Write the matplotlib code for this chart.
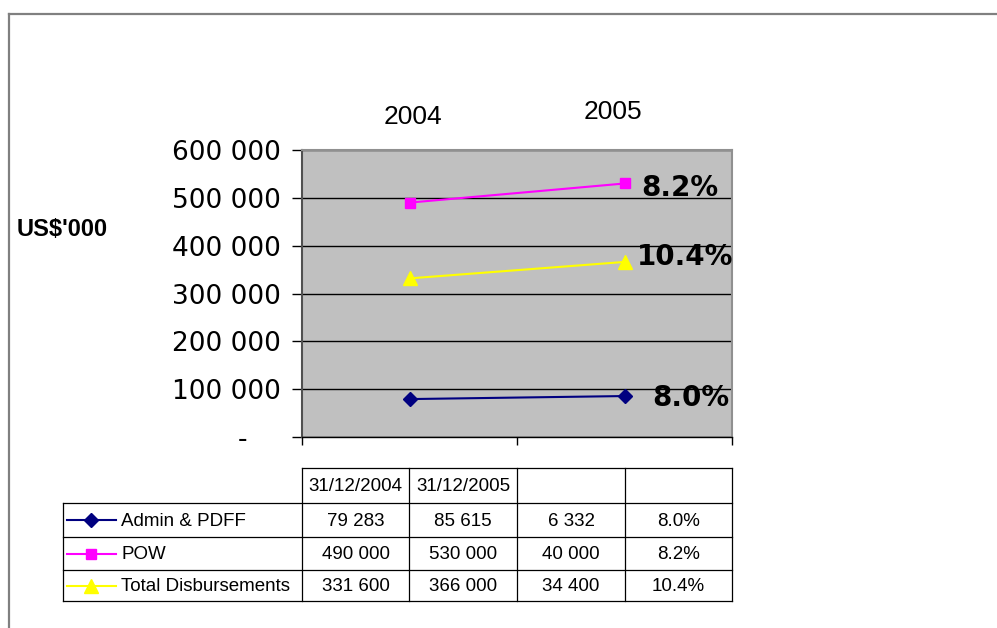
import matplotlib
matplotlib.use("Agg")
import matplotlib.pyplot as plt
from matplotlib.lines import Line2D

# ---- data ----
years = ["2004", "2005"]
dates = ["31/12/2004", "31/12/2005", "", ""]
series_names = ["Admin & PDFF", "POW", "Total Disbursements"]
admin = [79283, 85615]
pow_ = [490000, 530000]
total = [331600, 366000]
changes = [6332, 40000, 34400]
pct_labels = ["8.0%", "8.2%", "10.4%"]
y_ticks = [0, 100000, 200000, 300000, 400000, 500000, 600000]
y_unit = "US$'000"

colors = ["#000080", "#FF00FF", "#FFFF00"]
markers = ["D", "s", "^"]
msizes = [7, 7, 10]

W, H = 997, 628
fig = plt.figure(figsize=(W / 100, H / 100), dpi=100)

def fx(px):
    return px / W

def fy(py):
    return 1 - py / H

# plot area in pixels
L, R, T, B = 302, 732, 150, 437
ax = fig.add_axes([fx(L), fy(B), fx(R) - fx(L), fy(T) - fy(B)])
ax.set_facecolor("#C0C0C0")
ax.set_xlim(0, len(years))
ax.set_ylim(0, 600000)

xs = [i + 0.5 for i in range(len(years))]
all_series = [admin, pow_, total]
for vals, c, m, ms in zip(all_series, colors, markers, msizes):
    ax.plot(xs, vals, color=c, marker=m, markersize=ms, linewidth=1.5,
            markeredgecolor=c, zorder=3, clip_on=False)

# gridlines
ax.set_yticks(y_ticks)
ax.yaxis.grid(True, color="black", linewidth=1)
ax.set_axisbelow(True)

def yfmt(v, pos=None):
    if v == 0:
        return "-\u2007\u2007"
    return f"{int(v):,}".replace(",", " ")

ax.set_yticklabels([yfmt(v) for v in y_ticks], fontsize=19,
                   fontfamily=["DejaVu Sans", "Noto Sans"])
ax.tick_params(axis="y", direction="out", length=7, width=1, color="black", pad=8)
ax.set_xticks(range(len(years) + 1))
ax.set_xticklabels([])
ax.tick_params(axis="x", direction="out", length=6, width=1, color="black")

for s in ["top", "right"]:
    ax.spines[s].set_color("#909090")
    ax.spines[s].set_linewidth(1.5)
ax.spines["left"].set_color("#505050")
ax.spines["left"].set_linewidth(1.5)
ax.spines["bottom"].set_color("black")
ax.spines["bottom"].set_linewidth(1)

# year labels above plot (pixel offsets from category centre / plot bottom)
year_offsets = [(3, 117), (-12, 112)]
for x, lab, (dx, py) in zip(xs, years, year_offsets):
    ax.annotate(lab, xy=(x, 0), xycoords=("data", "axes fraction"),
                xytext=(dx, B - py), textcoords="offset pixels",
                ha="center", va="center", fontsize=19,
                fontfamily="Liberation Sans", annotation_clip=False)

# percent labels at 2005 points
pct_offsets = [(28, -2), (17, -5), (12, 5)]
for vals, lab, (dx, dy) in zip(all_series, pct_labels, pct_offsets):
    ax.annotate(lab, xy=(xs[-1], vals[-1]), xytext=(dx, dy),
                textcoords="offset pixels", ha="left", va="center",
                fontsize=20, fontweight="bold", fontfamily="DejaVu Sans",
                annotation_clip=False, zorder=5)

# overlay axes in pixel coordinates for frame, unit label and table
ov = fig.add_axes([0, 0, 1, 1], zorder=-1)
ov.set_xlim(0, W)
ov.set_ylim(H, 0)
ov.axis("off")
ov.add_line(Line2D([9, W], [14, 14], color="#808080", linewidth=1.6))
ov.add_line(Line2D([9, 9], [14, H], color="#808080", linewidth=1.6))

ov.text(17, 229, y_unit, fontsize=17, fontweight="bold",
        fontfamily="Liberation Sans", ha="left", va="center")

# table
cols = [302, 409, 517, 625, 732]
tleft = 63
rows = [468, 503, 537, 570, 601]
lc = "black"
lw = 0.9
ov.add_line(Line2D([cols[0], cols[-1]], [rows[0], rows[0]], color=lc, linewidth=lw))
for r in rows[1:]:
    ov.add_line(Line2D([tleft, cols[-1]], [r, r], color=lc, linewidth=lw))
for c in cols:
    ov.add_line(Line2D([c, c], [rows[0], rows[-1]], color=lc, linewidth=lw))
ov.add_line(Line2D([tleft, tleft], [rows[1], rows[-1]], color=lc, linewidth=lw))

tfs = 13.5
tfam = "Liberation Sans"
for i, d in enumerate(dates):
    cx = (cols[i] + cols[i + 1]) / 2
    ov.text(cx, (rows[0] + rows[1]) / 2 + 1, d, ha="center", va="center",
            fontsize=tfs, fontfamily=tfam)

def nfmt(v):
    return f"{int(v):,}".replace(",", " ")

for j, name in enumerate(series_names):
    cy = (rows[j + 1] + rows[j + 2]) / 2 + 1
    vals = [nfmt(all_series[j][0]), nfmt(all_series[j][1]),
            nfmt(changes[j]), pct_labels[j]]
    for i, v in enumerate(vals):
        cx = (cols[i] + cols[i + 1]) / 2
        ov.text(cx, cy, v, ha="center", va="center", fontsize=tfs, fontfamily=tfam)
    ov.text(121, cy, name, ha="left", va="center", fontsize=tfs, fontfamily=tfam)
    ov.plot([67, 116], [cy - 1, cy - 1], color=colors[j], linewidth=1.5)
    ov.plot([91], [cy - 1], color=colors[j], marker=markers[j],
            markersize=msizes[j], markeredgecolor=colors[j])

fig.savefig("out.png", dpi=100)
